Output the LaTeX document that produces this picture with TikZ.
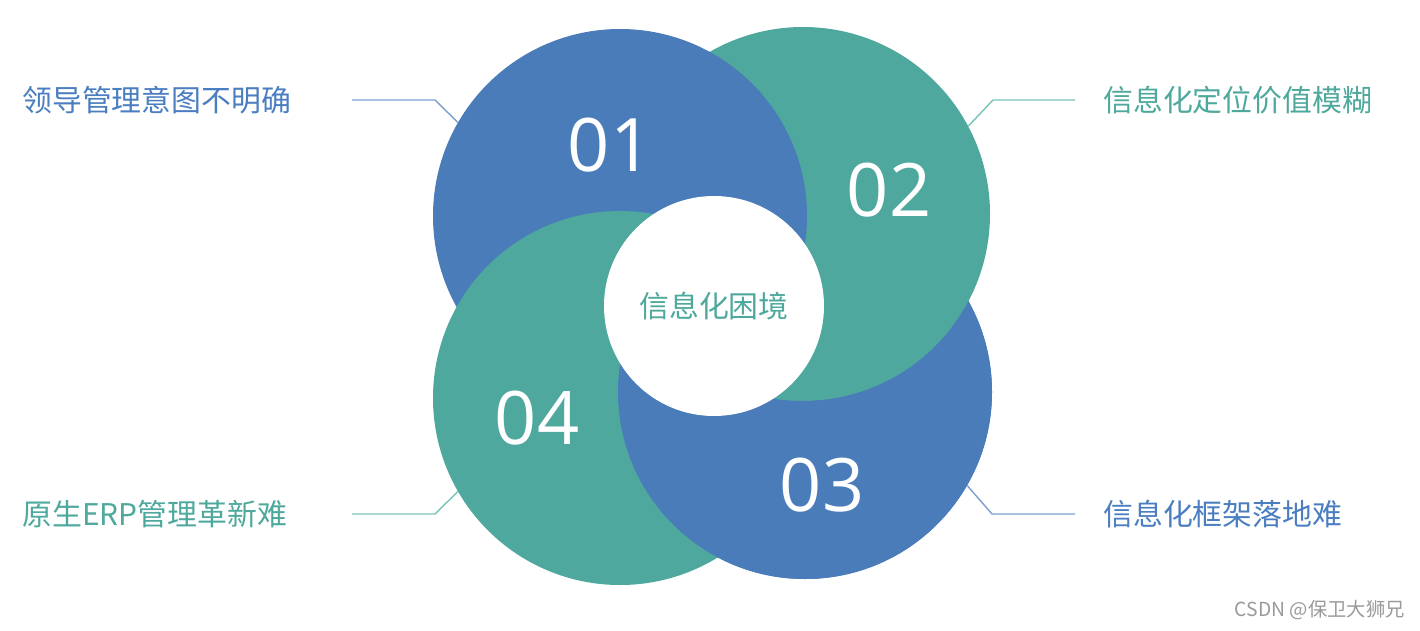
\documentclass[tikz,border=0pt]{standalone}
\usepackage{fontspec}
\setmainfont{Noto Sans CJK SC}
\newfontfamily\numfont{Open Sans}
\usetikzlibrary{positioning}
\definecolor{discblue}{HTML}{4A7CBA}
\definecolor{discteal}{HTML}{4FA89D}
\definecolor{txtblue}{HTML}{4A7EC0}
\definecolor{txtteal}{HTML}{4EA99C}
\definecolor{lineblue}{HTML}{7C9FD0}
\definecolor{lineteal}{HTML}{78C3B8}

\begin{document}
\begin{tikzpicture}[
  disc/.style={circle,minimum size=7.48cm,inner sep=0pt},
  bluedisc/.style={disc,fill=discblue},
  tealdisc/.style={disc,fill=discteal},
  num/.style={text=white,font=\numfont\fontsize{42}{42}\selectfont},
  issue/.style={anchor=west,inner sep=0pt,font=\fontsize{17}{17}\selectfont},
  leader/.style={line width=0.8pt}
]
\useasboundingbox (0,0) rectangle (28.4,12.6);
\node[bluedisc] (c3) at (16.1,4.76) {};
\node[tealdisc] (c2) at (16.06,8.32) {};
\node[bluedisc] (c1) at (12.4,8.28) {};
\node[tealdisc] (c4) at (12.4,4.64) {};
\begin{scope}
  \clip (0,0) rectangle (28.4,12.6) (c2.center) circle (3.74);
  \fill[discblue] (c3.center) circle (3.74);
\end{scope}
\node[circle,fill=white,minimum size=4.4cm,inner sep=0pt,text=txtteal,
      font=\fontsize{17}{17}\selectfont] (core) at (14.28,6.48) {信息化困境};

\node[num] (n1) at (12.2,9.7) {01};
\node[num] (n2) at (17.78,8.8) {02};
\node[num] (n3) at (16.44,2.9) {03};
\node[num] (n4) at (10.74,4.24) {04};

\node[issue,text=txtblue] (t1) at (0.44,10.6) {领导管理意图不明确};
\node[issue,text=txtteal] (t2) at (22.06,10.6) {信息化定位价值模糊};
\node[issue,text=txtblue] (t3) at (22.06,2.32) {信息化框架落地难};
\node[issue,text=txtteal] (t4) at (0.44,2.32) {原生ERP管理革新难};

\coordinate (l1) at (7.04,10.6);  \coordinate (k1) at (8.7,10.6);
\coordinate (l2) at (21.5,10.6);  \coordinate (k2) at (19.86,10.6);
\coordinate (l3) at (21.5,2.32);  \coordinate (k3) at (19.84,2.32);
\coordinate (l4) at (7.04,2.32);  \coordinate (k4) at (8.7,2.32);
\draw[leader,lineblue] (l1) -- (k1) -- (c1.150);
\draw[leader,lineteal] (l2) -- (k2) -- (c2.28);
\draw[leader,lineblue] (l3) -- (k3) -- (c3.-30);
\draw[leader,lineteal] (l4) -- (k4) -- (c4.210);

\node[anchor=east,inner sep=0pt,text=black!40,font=\fontsize{11}{11}\selectfont]
  (mark) at (28.1,0.4) {CSDN @保卫大狮兄};
\end{tikzpicture}
\end{document}
